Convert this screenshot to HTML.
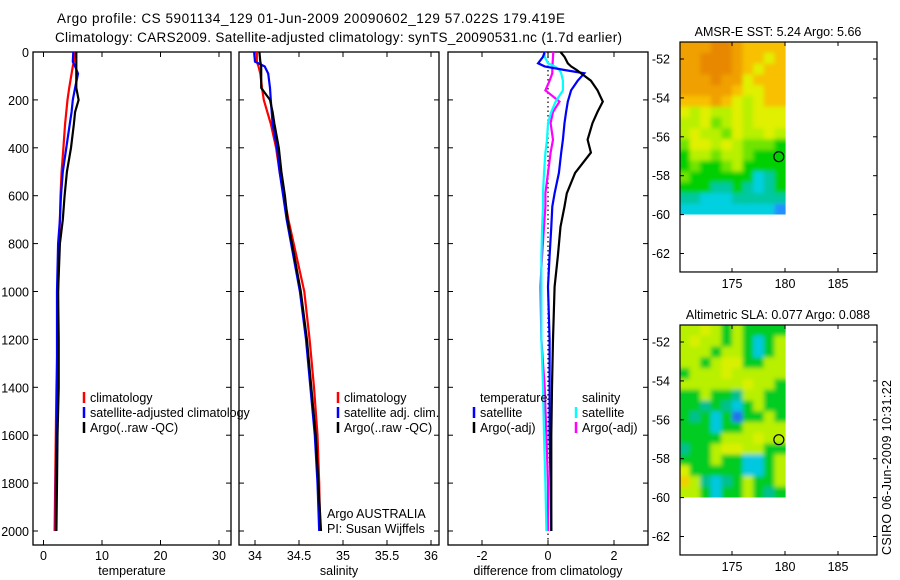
<!DOCTYPE html>
<html><head><meta charset="utf-8"><style>
html,body{margin:0;padding:0;background:#fff;}
svg{display:block;font-family:"Liberation Sans",Arial,sans-serif;}
</style></head><body>
<svg id="fig" width="900" height="580" viewBox="0 0 900 580" xmlns="http://www.w3.org/2000/svg">
<defs>
<filter id="smooth" x="-5%" y="-5%" width="110%" height="110%"><feGaussianBlur stdDeviation="2.2"/></filter>
<clipPath id="clip-sst"><rect x="680" y="42" width="105.6" height="172.5"/></clipPath>
<clipPath id="clip-sla"><rect x="680" y="325" width="105.6" height="172.5"/></clipPath>
</defs>
<text x="57" y="23" font-size="13.5" textLength="508">Argo profile: CS 5901134_129 01-Jun-2009 20090602_129 57.022S 179.419E</text>
<text x="55" y="42" font-size="13.5" textLength="567">Climatology: CARS2009. Satellite-adjusted climatology: synTS_20090531.nc (1.7d earlier)</text>
<g id="plots"></g>
<text transform="translate(891,555) rotate(-90)" font-size="12.5" textLength="175">CSIRO 06-Jun-2009 10:31:22</text>
</svg>
<script>
// ---- data ----
const depthTicks = [0,200,400,600,800,1000,1200,1400,1600,1800,2000];
const tDepth = [0,40,60,90,150,200,250,300,400,500,600,700,800,1000,1200,1400,1600,1800,2000];
const tempClim = [5.3,5.2,5.0,4.8,4.4,4.1,3.9,3.7,3.4,3.1,2.9,2.8,2.7,2.5,2.4,2.2,2.1,2.0,1.9];
const tempSat  = [5.1,5.0,5.4,5.9,5.4,5.0,4.8,4.5,3.9,3.3,3.0,2.8,2.5,2.3,2.3,2.3,2.2,2.1,2.1];
const tempArgo = [5.6,5.6,5.6,5.6,5.6,6.0,5.4,5.2,4.7,4.0,3.6,3.3,2.8,2.5,2.6,2.6,2.4,2.3,2.2];
const tempTicks = [0,10,20,30];
const salClim = [34.02,34.02,34.04,34.06,34.08,34.1,34.14,34.18,34.24,34.28,34.33,34.38,34.44,34.56,34.62,34.67,34.71,34.73,34.74];
const salSat  = [33.99,34.0,34.11,34.15,34.17,34.18,34.19,34.2,34.25,34.28,34.32,34.36,34.41,34.51,34.58,34.63,34.68,34.71,34.73];
const salArgo = [34.05,34.06,34.07,34.07,34.07,34.17,34.2,34.22,34.27,34.3,34.34,34.37,34.42,34.52,34.59,34.64,34.69,34.72,34.75];
const salTicks = [34,34.5,35,35.5,36];
const salTickLabels = ["34","34.5","35","35.5","36"];
const dDepth = [0,20,47,60,75,89,120,160,207,250,297,366,420,505,590,645,730,850,980,1200,1400,1600,1800,2000];
const dTempSat  = [-0.1,-0.15,-0.3,-0.1,0.5,1.1,0.9,0.7,0.6,0.55,0.5,0.45,0.4,0.33,0.2,0.13,0.1,0.05,0.0,0.05,0.05,0.05,0.08,0.1];
const dTempArgo = [0.38,0.5,0.6,0.7,0.87,1.0,1.3,1.5,1.66,1.5,1.35,1.2,1.3,0.82,0.57,0.5,0.38,0.3,0.2,0.15,0.12,0.1,0.1,0.1];
const dSalSat   = [-0.1,-0.1,0.0,0.2,0.35,0.4,0.45,0.45,0.23,0.1,0.0,-0.03,-0.08,-0.12,-0.15,-0.15,-0.18,-0.2,-0.2,-0.2,-0.15,-0.12,-0.08,-0.05];
const dSalArgo  = [0.16,0.15,0.14,0.14,0.13,0.13,0.05,-0.08,0.35,0.15,0.08,0.15,0.08,0.0,-0.08,-0.08,-0.12,-0.18,-0.23,-0.2,-0.1,-0.05,0.0,0.0];
const diffTicks = [-2,0,2];
const latTicks = [-52,-54,-56,-58,-60,-62];
const lonTicks = [175,180,185];
const argoLon = 179.419, argoLat = -57.022;
const sstRows = [
"8889987777","8899987767","8899987677","8889886777","8888876677","7778765677",
"6565565666","5564565666","5655465565","4665654443","3554554333","3433453333",
"4333333123","3332232123","2211122222","1111111110"];
const slaRows = [
"4454343333","4544343134","4443443134","4434553344","3444544444","4444445443",
"3343324433","3323213433","3231303343","3331334444","3333444544","2334554433",
"3334331134","5333331134","6421234334","4431334323"];
const sstColors = ["#2090ff","#00d0e0","#00c8a0","#00d000","#70e400","#b8f000","#e0f000","#f8c000","#f0a000","#e88800"];
const slaColors = ["#2070f0","#00c8e0","#00c090","#00cc20","#b8f000","#d8f000","#f0d000"];

// ---- helpers ----
const NS="http://www.w3.org/2000/svg";
const G=document.getElementById('plots');
function mk(tag,attrs,parent){const e=document.createElementNS(NS,tag);for(const k in attrs)e.setAttribute(k,attrs[k]);(parent||G).appendChild(e);return e;}
function yDepth(d){return 52+d*0.2395;}
const PT=52,PB=545;
function panel(name,x0,x1,xs,ticks,labels,xlabel,showY){
  const g=mk('g',{});
  
  
  const r=mk('rect',{x:x0,y:PT,width:x1-x0,height:PB-PT,fill:'none',stroke:'#000','stroke-width':1.3},g);
  
  
  depthTicks.forEach(d=>{const y=yDepth(d);
    mk('line',{x1:x0,x2:x0+5,y1:y,y2:y,stroke:'#000'},g);
    mk('line',{x1:x1-5,x2:x1,y1:y,y2:y,stroke:'#000'},g);
    if(showY){const t=mk('text',{x:x0-4,y:y+5,'font-size':12.5,'text-anchor':'end'},g);t.textContent=d;
      
      }
  });
  ticks.forEach((v,i)=>{const x=xs(v);
    mk('line',{x1:x,x2:x,y1:PT,y2:PT+5,stroke:'#000'},g);
    mk('line',{x1:x,x2:x,y1:PB-5,y2:PB,stroke:'#000'},g);
    const t=mk('text',{x:x,y:PB+15,'font-size':12.5,'text-anchor':'middle'},g);t.textContent=labels[i];
    
    
  });
  const xl=mk('text',{x:(x0+x1)/2,y:PB+30,'font-size':12.5,'text-anchor':'middle'},g);xl.textContent=xlabel;
  
  
  return g;
}
function series(name,xs,vals,depths,color){
  const pts=vals.map((v,i)=>xs(v).toFixed(1)+','+yDepth(depths[i]).toFixed(1)).join(' ');
  const p=mk('polyline',{points:pts,fill:'none',stroke:color,'stroke-width':2.2});
  
  
}
function legend(x,y,items,name){
  items.forEach((it,i)=>{
    const yy=y+i*15;
    if(it[1]){const l=mk('line',{x1:x,x2:x,y1:yy-10,y2:yy+1,stroke:it[1],'stroke-width':2.5});
      
      }
    const t=mk('text',{x:x+6,y:yy,'font-size':12.5});t.textContent=it[0];
    
    
  });
}
// ---- temperature panel ----
const xT=v=>43.5+5.85*v;
panel('temperature-panel',33,231,xT,tempTicks,tempTicks.map(String),'temperature',true);
series('temp-climatology-line',xT,tempClim,tDepth,'#ff0000');
series('temp-satellite-line',xT,tempSat,tDepth,'#0000ff');
series('temp-argo-line',xT,tempArgo,tDepth,'#000000');
legend(84,402,[['climatology','#ff0000'],['satellite-adjusted climatology','#0000ff'],['Argo(..raw -QC)','#000']],'temp-legend');
// ---- salinity panel ----
const xS=v=>255+88*(v-34);
panel('salinity-panel',239,439,xS,salTicks,salTickLabels,'salinity',false);
series('sal-climatology-line',xS,salClim,tDepth,'#ff0000');
series('sal-satellite-line',xS,salSat,tDepth,'#0000ff');
series('sal-argo-line',xS,salArgo,tDepth,'#000000');
legend(338,402,[['climatology','#ff0000'],['satellite adj. clim.','#0000ff'],['Argo(..raw -QC)','#000']],'sal-legend');
legend(321,518,[['Argo AUSTRALIA',null],['PI: Susan Wijffels',null]],'credit');
// ---- difference panel ----
const xD=v=>548+33*v;
panel('difference-panel',448,648,xD,diffTicks,diffTicks.map(String),'difference from climatology',false);
const zl=mk('line',{x1:xD(0),x2:xD(0),y1:PT,y2:PB-5,stroke:'#000','stroke-dasharray':'1.5,3','stroke-width':1.2});


series('diff-sal-argo-line',xD,dSalArgo,dDepth,'#ff00ff');
series('diff-sal-satellite-line',xD,dSalSat,dDepth,'#00ffff');
series('diff-temp-satellite-line',xD,dTempSat,dDepth,'#0000ff');
series('diff-temp-argo-line',xD,dTempArgo,dDepth,'#000000');
legend(474,402,[['temperature',null],['satellite','#0000ff'],['Argo(-adj)','#000']],'diff-temp-legend');
legend(576,402,[['salinity',null],['satellite','#00ffff'],['Argo(-adj)','#ff00ff']],'diff-sal-legend');
// ---- maps ----
function map(name,top,lat52y,title,rows,colors,clipId){
  const g=mk('g',{});
  
  
  const xL=lon=>732+(lon-175)*10.6;
  const yL=lat=>lat52y+(-52-lat)*19.45;
  const bottom=yL(-62.95);
  const t=mk('text',{x:778,y:top-6,'font-size':12.5,'text-anchor':'middle'},g);t.textContent=title;
  
  
  const latTop=-52-(top-lat52y)/19.45, nR=rows.length, nC=rows[0].length;
  const dLat=(latTop+60)/nR, dLon=10/nC;
  const clipG=mk('g',{'clip-path':'url(#'+clipId+')'},g);
  const cellG=mk('g',{filter:'url(#smooth)'},clipG);
  rows.forEach((row,ri)=>{for(let ci=0;ci<nC;ci++){
    const la=latTop-ri*dLat, lo=170+ci*dLon;
    let x=xL(lo), y=yL(la), x2=xL(lo+dLon)+0.6, y2=yL(la-dLat)+0.6;
    if(ci===0)x-=8; if(ci===nC-1)x2+=8; if(ri===0)y-=8; if(ri===nR-1)y2+=8;
    const c=mk('rect',{x:x.toFixed(1),y:y.toFixed(1),width:(x2-x).toFixed(1),height:(y2-y).toFixed(1),fill:colors[+row[ci]]},cellG);
    
    
  }});
  const f=mk('rect',{x:680,y:top,width:197,height:bottom-top,fill:'none',stroke:'#000','stroke-width':1.2},g);
  
  
  latTicks.forEach(la=>{const y=yL(la);
    mk('line',{x1:680,x2:684,y1:y,y2:y,stroke:'#000'},g);
    mk('line',{x1:873,x2:877,y1:y,y2:y,stroke:'#000'},g);
    const l=mk('text',{x:670,y:y+4.5,'font-size':12.5,'text-anchor':'end'},g);l.textContent=la;
    
    });
  lonTicks.forEach(lo=>{const x=xL(lo);
    mk('line',{x1:x,x2:x,y1:top,y2:top+4,stroke:'#000'},g);
    mk('line',{x1:x,x2:x,y1:bottom-4,y2:bottom,stroke:'#000'},g);
    const l=mk('text',{x:x,y:bottom+16,'font-size':12.5,'text-anchor':'middle'},g);l.textContent=lo;
    
    });
  const c=mk('circle',{cx:xL(argoLon),cy:yL(argoLat),r:5,fill:'none',stroke:'#000','stroke-width':1.2},g);
  
  
}
map('sst-map',42,59,'AMSR-E SST: 5.24 Argo: 5.66',sstRows,sstColors,'clip-sst');
map('sla-map',325,342,'Altimetric SLA: 0.077 Argo: 0.088',slaRows,slaColors,'clip-sla');
</script>
</body></html>
